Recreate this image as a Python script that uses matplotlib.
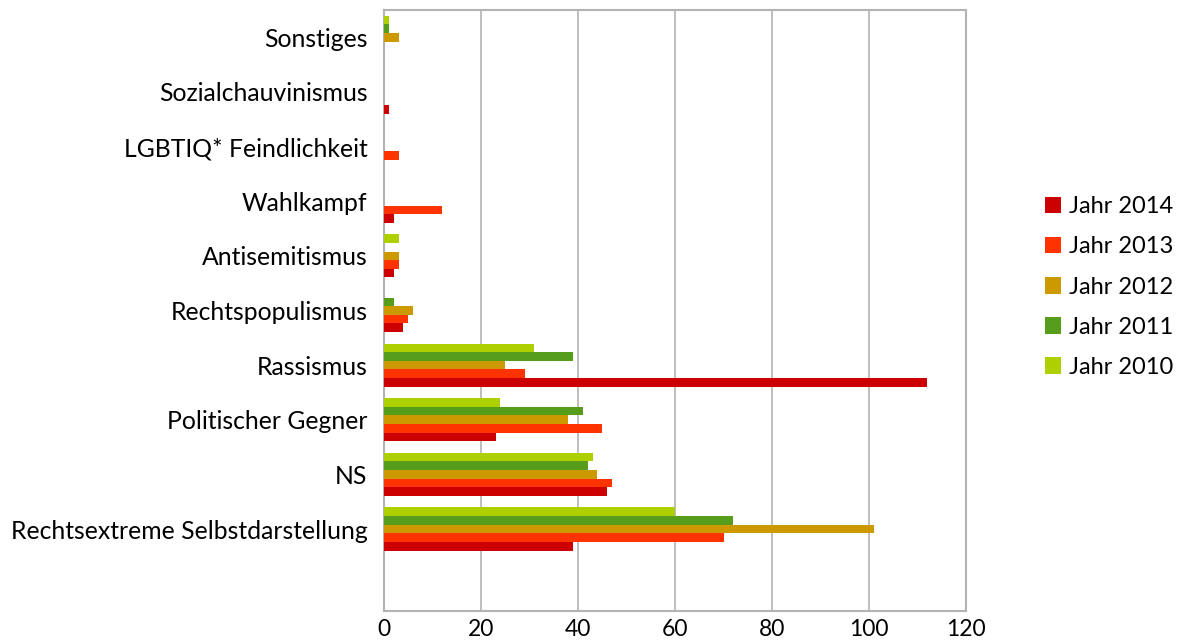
"""Grouped horizontal bar chart: categories per year 2010-2014."""

import matplotlib
matplotlib.use("Agg")
import matplotlib.pyplot as plt
import numpy as np

# categories from bottom to top (first slot left empty, as in the reference)
categories = [
    "",
    "Rechtsextreme Selbstdarstellung",
    "NS",
    "Politischer Gegner",
    "Rassismus",
    "Rechtspopulismus",
    "Antisemitismus",
    "Wahlkampf",
    "LGBTIQ* Feindlichkeit",
    "Sozialchauvinismus",
    "Sonstiges",
]

years = ["Jahr 2014", "Jahr 2013", "Jahr 2012", "Jahr 2011", "Jahr 2010"]
colors = ["#cc0000", "#ff3300", "#cc9900", "#579d1c", "#aecf00"]

jahr_2014 = [0, 39, 46, 23, 112, 4, 2, 2, 0, 1, 0]
jahr_2013 = [0, 70, 47, 45, 29, 5, 3, 12, 3, 0, 0]
jahr_2012 = [0, 101, 44, 38, 25, 6, 3, 0, 0, 0, 3]
jahr_2011 = [0, 72, 42, 41, 39, 2, 0, 0, 0, 0, 1]
jahr_2010 = [0, 60, 43, 24, 31, 0, 3, 0, 0, 0, 1]
series = [jahr_2014, jahr_2013, jahr_2012, jahr_2011, jahr_2010]

plt.rcParams["font.family"] = ["Lato", "DejaVu Sans"]

fig = plt.figure(figsize=(11.8, 6.44), dpi=100)
ax = fig.add_axes([384 / 1180, 1 - 611 / 644, (966 - 384) / 1180, (611 - 10) / 644])

y = np.arange(len(categories))
bar_h = 0.158
for i, (vals, label, col) in enumerate(zip(series, years, colors)):
    ax.barh(y + (i - 2) * bar_h, vals, height=bar_h, color=col, label=label, zorder=3)

ax.set_xlim(0, 120)
ax.set_ylim(-0.5, len(categories) - 0.5)
ax.set_xticks(np.arange(0, 121, 20))
ax.set_yticks(y)
ax.set_yticklabels(categories, fontsize=17.8)
ax.tick_params(axis="x", labelsize=16.5, length=0, pad=6)
ax.tick_params(axis="y", length=0, pad=12)
ax.grid(axis="x", color="#b3b3b3", linewidth=1.2, zorder=0)
for s in ax.spines.values():
    s.set_color("#b3b3b3")
    s.set_linewidth(1.5)

handles, labels = ax.get_legend_handles_labels()
fig.legend(handles, labels, loc="center left", bbox_to_anchor=(1036 / 1180, 1 - 287 / 644),
           frameon=False, fontsize=17, handlelength=0.65, handleheight=0.7,
           handletextpad=0.34, labelspacing=0.81, borderaxespad=0)

fig.savefig("out.png", dpi=100)
